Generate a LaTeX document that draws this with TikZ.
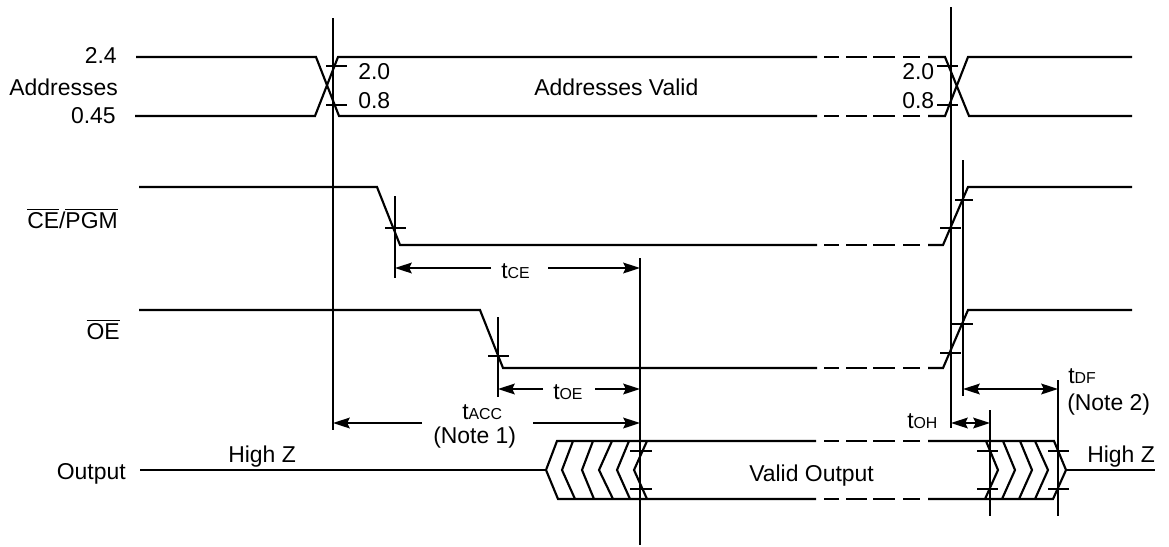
\documentclass[tikz,border=0pt]{standalone}
\usepackage{fontspec}
\setmainfont{Liberation Sans}
\usetikzlibrary{arrows.meta}
\newcommand\ovl[1]{\vbox{\hrule height 1pt\kern 1.3pt\hbox{#1}}}
\newcommand\tsub[2]{#1{\fontsize{11.9}{14}\selectfont #2}}
\tikzset{
  wave/.style={line width=1.6pt,line join=miter},
  rule/.style={line width=1.6pt},
  tickmark/.style={line width=1.6pt},
  dim/.style={line width=1.6pt,-{Stealth[length=12.5pt,width=8pt,inset=1.8pt]}},
  dimboth/.style={line width=1.6pt,{Stealth[length=12.5pt,width=8pt,inset=1.8pt]}-{Stealth[length=12.5pt,width=8pt,inset=1.8pt]}},
  lbl/.style={inner sep=0pt,anchor=base west,font=\fontsize{17.2}{20}\selectfont},
  lblr/.style={inner sep=0pt,anchor=base east,font=\fontsize{17.2}{20}\selectfont},
}
\begin{document}
\begin{tikzpicture}[x=0.75pt,y=-0.75pt]
\useasboundingbox (0,0) rectangle (1169,546);
% verticals
\draw[rule] (333,18) -- (333,430);
\draw[rule] (951,7) -- (951,428);
\draw[rule] (963,160) -- (963,396);
\draw[rule] (640,258) -- (640,545);
\draw[rule] (395,196) -- (395,278);
\draw[rule] (498,317) -- (498,397);
\draw[rule] (990,410) -- (990,516);
\draw[rule] (1058,380) -- (1058,516);
% dashes helper
\foreach \y in {57,116,245,368,441,499}{
  \foreach \a/\b in {824/839,846/867,873/895,903/920}{
    \draw[wave] (\a,\y) -- (\b,\y);
  }
}
% addresses
\draw[wave] (136,57) -- (316,57) -- (339,116) -- (817,116);
\draw[wave] (135,116) -- (315,116) -- (338,57) -- (817,57);
\draw[wave] (928,57) -- (945,57) -- (969,116) -- (1132,116);
\draw[wave] (928,116) -- (945,116) -- (968,57) -- (1132,57);
% CE
\draw[wave] (139,187) -- (377,187) -- (400,245) -- (817,245);
\draw[wave] (928,245) -- (943,245) -- (968,187) -- (1132,187);
% OE
\draw[wave] (139,310) -- (480,310) -- (503,368) -- (817,368);
\draw[wave] (928,368) -- (943,368) -- (968,310) -- (1132,310);
% output left
\draw[wave] (140,470) -- (546,470);
\draw[wave] (816,441) -- (557,441) -- (546,470) -- (558,499) -- (816,499);
\draw[wave] (573,441) -- (562,470) -- (575,499);
\draw[wave] (593,441) -- (582,470) -- (594,499);
\draw[wave] (612,441) -- (599,470) -- (613,499);
\draw[wave] (629,441) -- (617,470) -- (630,499);
\draw[wave] (647,441) -- (634,470) -- (647,499);
% output right
\draw[wave] (928,441) -- (1054,441) -- (1066,470) -- (1053,499) -- (928,499);
\draw[wave] (1066,470) -- (1155,470);
\draw[wave] (986,441) -- (998,470) -- (985,499);
\draw[wave] (1003,441) -- (1015,470) -- (1002,499);
\draw[wave] (1020,441) -- (1032,470) -- (1019,499);
\draw[wave] (1035,441) -- (1048,470) -- (1035,499);
% ticks
\foreach \a/\b/\y in {326/347/66,326/347/105,937/958/66,937/958/105,
  385/406/228,940/961/228,955/973/200,
  488/509/356,940/961/353,952/973/324,
  630/652/451,630/652/489,977/998/451,977/998/489,1048/1069/451,1048/1069/489}{
  \draw[tickmark] (\a,\y) -- (\b,\y);
}
% dimension ends
\coordinate (ceL) at (395,268);
\coordinate (ceR) at (640,268);
\coordinate (oeL) at (498,389);
\coordinate (oeR) at (640,389);
\coordinate (acL) at (333,423);
\coordinate (acR) at (640,423);
\coordinate (ohL) at (951,423);
\coordinate (ohR) at (990,423);
\coordinate (dfL) at (963,389);
\coordinate (dfR) at (1058,389);
\coordinate (ce1) at (491,268);
\coordinate (ce2) at (548,268);
\coordinate (oe1) at (543,389);
\coordinate (oe2) at (595,389);
\coordinate (ac1) at (422,423);
\coordinate (ac2) at (533,423);
\draw[dim] (ce1) -- (ceL);
\draw[dim] (ce2) -- (ceR);
\draw[dim] (oe1) -- (oeL);
\draw[dim] (oe2) -- (oeR);
\draw[dim] (ac1) -- (acL);
\draw[dim] (ac2) -- (acR);
\draw[dimboth] (ohL) -- (ohR);
\draw[dimboth] (dfL) -- (dfR);
% labels
\node[lblr] (v24) at (117,63.5) {2.4};
\node[lblr] (addr) at (118,95) {Addresses};
\node[lblr] (v045) at (116,123) {0.45};
\node[lblr] (ce) at (118,228) {\ovl{CE}/\ovl{PGM}};
\node[lblr] (oe) at (120,339) {\ovl{OE}};
\node[lblr] (out) at (126,479) {Output};
\node[lbl] (a20) at (358,79) {2.0};
\node[lbl] (a08) at (358,108) {0.8};
\node[lbl] (b20) at (902,79) {2.0};
\node[lbl] (b08) at (902,108) {0.8};
\node[lbl] (av) at (534,95) {Addresses Valid};
\node[lbl] (tce) at (501,278) {\tsub{t}{CE}};
\node[lbl] (toe) at (553,399) {\tsub{t}{OE}};
\node[lbl] (tacc) at (462,419) {\tsub{t}{ACC}};
\node[lbl] (n1) at (433,443) {(Note 1)};
\node[lbl] (hz1) at (228,462) {High Z};
\node[lbl] (vo) at (749,481) {Valid Output};
\node[lbl] (toh) at (907,428) {\tsub{t}{OH}};
\node[lbl] (tdf) at (1068,383) {\tsub{t}{DF}};
\node[lbl] (n2) at (1067,410) {(Note 2)};
\node[lbl] (hz2) at (1087,462) {High Z};
\end{tikzpicture}
\end{document}
